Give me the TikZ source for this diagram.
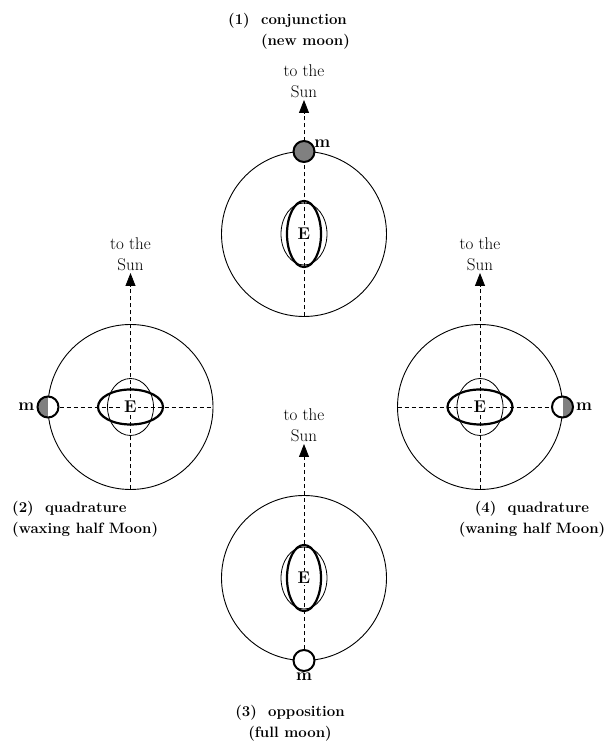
\documentclass[tikz,border=0pt]{standalone}
\usepackage{xcolor}
\usetikzlibrary{arrows.meta}
\usetikzlibrary{positioning, math}
\definecolor{moongray}{RGB}{128,128,128}

\tikzset{
  orbit/.style={line width=0.9pt},
  axis/.style={line width=0.8pt, dash pattern=on 4pt off 3pt},
  sunarrow/.style={axis, -{Triangle[width=10pt,length=13pt]}},
  moon/.style={circle, draw, fill=white, line width=2pt, minimum size=21pt, inner sep=0pt},
  moongrey/.style={moon, fill=moongray},
  halfleft/.style={moon, path picture={\fill[moongray] (path picture bounding box.south west) rectangle (path picture bounding box.north);}},
  halfright/.style={moon, path picture={\fill[moongray] (path picture bounding box.south) rectangle (path picture bounding box.north east);}},
  tide/.style={line width=2.2pt},
  eqtide/.style={line width=0.8pt},
  earth/.style={font=\bfseries\fontsize{17}{21}\selectfont, fill=white, inner sep=1pt},
  mlabel/.style={font=\bfseries\fontsize{17}{21}\selectfont, inner sep=1pt},
  sunlabel/.style={align=center, font=\fontsize{17}{21}\selectfont, inner sep=2pt, anchor=south},
  caption/.style={font=\bfseries\fontsize{15}{21}\selectfont, inner sep=0pt},
}

\begin{document}
\begin{tikzpicture}[x=1pt, y=1pt]
\tikzmath{
\R=82.5;
\T=134;
\r=10.5;
}
\useasboundingbox (0,0) rectangle (609,742);

% (1) conjunction
\begin{scope}[shift={(304,508)}]
\coordinate (B1) at (0,-\R);
\coordinate (S1) at (0,\T);
\draw[orbit] (0,0) circle[radius=\R];
\draw[sunarrow] (B1) -- (S1);
\draw[eqtide] (0,0) ellipse[x radius=23, y radius=31];
\draw[tide] (0,0) ellipse[x radius=17, y radius=33];
\node[earth] (E1) at (0,0) {E};
\node[moongrey] (M1) at (0,\R) {};
\node[mlabel, above right=-5pt and 1pt of M1] (m1) {m};
\node[sunlabel] (sun1) at (S1) {to the\\Sun};
\end{scope}

% (2) quadrature, waxing
\begin{scope}[shift={(130.5,335)}]
\coordinate (B2) at (0,-\R);
\coordinate (S2) at (0,\T);
\coordinate (R2) at (\R,0);
\draw[orbit] (0,0) circle[radius=\R];
\draw[sunarrow] (B2) -- (S2);
\draw[eqtide] (0,0) ellipse[x radius=23, y radius=28.5];
\draw[tide] (0,0) ellipse[x radius=32.5, y radius=17.5];
\node[halfleft] (M2) at (-\R,0) {};
\draw[axis] (M2) -- (R2);
\node[earth] (E2) at (0,0) {E};
\node[mlabel, left=1pt of M2] (m2) {m};
\node[sunlabel] (sun2) at (S2) {to the\\Sun};
\end{scope}

% (4) quadrature, waning
\begin{scope}[shift={(480,335)}]
\coordinate (B4) at (0,-\R);
\coordinate (S4) at (0,\T);
\coordinate (L4) at (-\R,0);
\draw[orbit] (0,0) circle[radius=\R];
\draw[sunarrow] (B4) -- (S4);
\draw[eqtide] (0,0) ellipse[x radius=23, y radius=28.5];
\draw[tide] (0,0) ellipse[x radius=32.5, y radius=17.5];
\node[halfright] (M4) at (\R,0) {};
\draw[axis] (L4) -- (M4);
\node[earth] (E4) at (0,0) {E};
\node[mlabel, right=1pt of M4] (m4) {m};
\node[sunlabel] (sun4) at (S4) {to the\\Sun};
\end{scope}

% (3) opposition
\begin{scope}[shift={(304,164)}]
\coordinate (S3) at (0,\T);
\draw[orbit] (0,0) circle[radius=\R];
\node[moon] (M3) at (0,-\R) {};
\draw[sunarrow] (M3) -- (S3);
\draw[eqtide] (0,0) ellipse[x radius=23, y radius=31];
\draw[tide] (0,0) ellipse[x radius=17, y radius=33];
\node[earth] (E3) at (0,0) {E};
\node[mlabel, below=0pt of M3] (m3) {m};
\node[sunlabel] (sun3) at (S3) {to the\\Sun};
\end{scope}

% captions
\node[caption, align=left, anchor=north west] (cap1) at (228,729)
  {(1)\ \ conjunction\\\phantom{(1)\ \ }(new moon)};
\node[caption, align=left, anchor=north west] (cap2) at (12,241)
  {(2)\ \ quadrature\\(waxing half Moon)};
\node[caption, align=center, anchor=north] (cap4) at (532,241)
  {(4)\ \ quadrature\\(waning half Moon)};
\node[caption, align=center, anchor=north] (cap3) at (290,37)
  {(3)\ \ opposition\\(full moon)};
\end{tikzpicture}
\end{document}
